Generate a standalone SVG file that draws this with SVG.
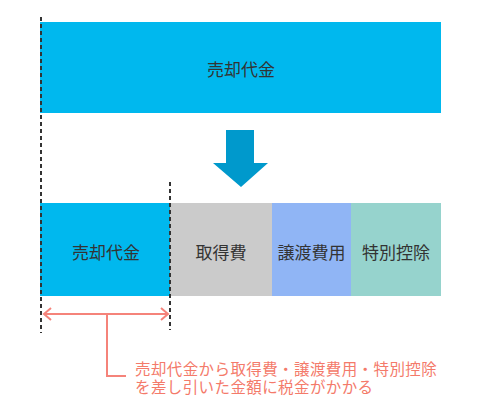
<svg xmlns="http://www.w3.org/2000/svg" width="480" height="414" viewBox="0 0 480 414">
<style>
.lbl{font-family:"Noto Sans CJK JP","Noto Sans CJK SC",sans-serif;font-size:17px;fill:#333;text-anchor:middle;dominant-baseline:central}
.note{font-family:"Noto Sans CJK JP","Noto Sans CJK SC",sans-serif;font-size:15.5px;letter-spacing:0.4px;fill:#F47A6A}
.dash{stroke:#333;stroke-width:2;stroke-dasharray:4 3;fill:none}
.red{stroke:#F5837A;stroke-width:2;fill:none}
</style>
<rect width="480" height="414" fill="#fff"/>
<g id="top">
<rect x="40" y="22" width="401" height="91" fill="#00B8EE"/>
<text class="lbl" x="241" y="68">売却代金</text>
</g>
<g id="arrow">
<polygon points="226,130 254,130 254,163 268,163 241,187 213,163 226,163" fill="#0099CC"/>
</g>
<g id="sale">
<rect x="40" y="203" width="130" height="93" fill="#00B8EE"/>
<text class="lbl" x="106" y="251">売却代金</text>
</g>
<g id="acq">
<rect x="170" y="203" width="102" height="93" fill="#CBCBCB"/>
<text class="lbl" x="221" y="251">取得費</text>
</g>
<g id="transfer">
<rect x="272" y="203" width="79" height="93" fill="#90B5F5"/>
<text class="lbl" x="311.5" y="251">譲渡費用</text>
</g>
<g id="special">
<rect x="351" y="203" width="90" height="93" fill="#96D3CD"/>
<text class="lbl" x="396" y="251">特別控除</text>
</g>
<g id="connectors">
<line class="dash" x1="41" y1="17" x2="41" y2="333"/>
<line class="dash" x1="170" y1="182" x2="170" y2="330"/>
<line class="red" x1="44" y1="314" x2="168" y2="314"/>
<polyline class="red" points="51,308 44,314 51,320"/>
<polyline class="red" points="161,308 168,314 161,320"/>
<polyline class="red" points="107,314 107,376 126,376"/>
</g>
<g id="note">
<text class="note" x="135" y="375">売却代金から取得費・譲渡費用・特別控除</text>
<text class="note" x="135" y="393">を差し引いた金額に税金がかかる</text>
</g>
</svg>
